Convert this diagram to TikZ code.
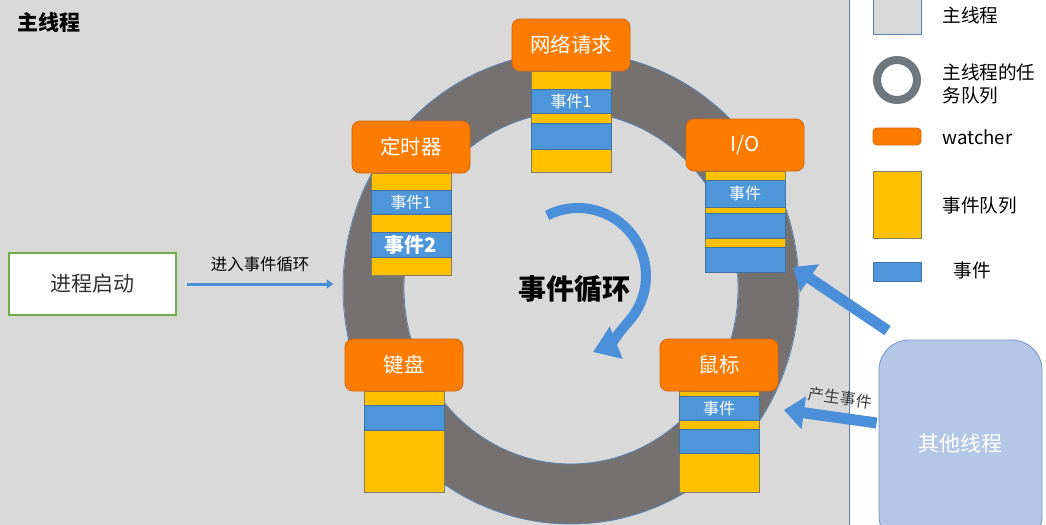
\documentclass[tikz,border=0pt]{standalone}
\usepackage{fontspec}
\setmainfont{Noto Sans CJK SC}
\usetikzlibrary{arrows.meta,positioning,calc,shapes.geometric}
\definecolor{bggray}{HTML}{D9D9D9}
\definecolor{divline}{HTML}{5B7FA8}
\definecolor{ringgray}{HTML}{767171}
\definecolor{ringedge}{HTML}{5B80AA}
\definecolor{worange}{HTML}{FD7C00}
\definecolor{wedge}{HTML}{D0680A}
\definecolor{qyellow}{HTML}{FFC000}
\definecolor{qedge}{HTML}{7E8060}
\definecolor{evblue}{HTML}{4D96DA}
\definecolor{evedge}{HTML}{41719C}
\definecolor{arrowblue}{HTML}{4A8FD8}
\definecolor{othfill}{HTML}{B4C7E7}
\definecolor{othedge}{HTML}{7393CC}
\definecolor{startedge}{HTML}{70AD47}
\definecolor{lgring}{HTML}{6E767E}

\begin{document}
\begin{tikzpicture}[
  x=0.5pt, y=-0.5pt,
  watcher/.style={draw=wedge, fill=worange, rounded corners=4pt, outer sep=0pt,
    minimum width=59pt, minimum height=26pt, text=white,
    font=\fontsize{10.2}{12}\selectfont},
  evq/.style={draw=qedge, fill=qyellow, inner sep=0pt, outer sep=0pt,
    anchor=north west, minimum width=40pt},
  evt/.style={draw=evedge, fill=evblue, inner sep=0pt, outer sep=0pt,
    anchor=north west, minimum width=40pt, text=white,
    font=\fontsize{8}{9}\selectfont},
  lgtext/.style={anchor=west, inner sep=0pt, align=left,
    font=\fontsize{9.3}{11.5}\selectfont},
  feed/.style={draw=arrowblue, line width=1.5pt, -{Triangle[length=3.5pt,width=4.5pt]}},
  push/.style={draw=arrowblue, line width=5.5pt, -{Triangle[length=10pt,width=16pt]}},
  spin/.style={draw=arrowblue, line width=5pt, -{Triangle[length=12.5pt,width=16.5pt]}}
]
\useasboundingbox (0,0) rectangle (1046,525);
\clip (0,0) rectangle (1046,525);
\fill[white] (0,0) rectangle (1046,525);
\draw[fill=bggray, draw=divline] (-5,-5) rectangle (849,530);

\node[font=\bfseries\fontsize{10.5}{12}\selectfont, anchor=west, inner sep=0pt] (title) at (17,22) {主线程};

% task queue ring
\node[ellipse, draw=ringgray, line width=30pt, minimum width=197.5pt, minimum height=206pt, inner sep=0pt] (ring) at (571,288) {};
\draw[ringedge] (ring.center) ellipse[x radius=228, y radius=236] (ring.center) ellipse[x radius=167, y radius=176];

\node[draw=startedge, line width=0.8pt, fill=white, minimum width=83.5pt, minimum height=31pt,
  text=black!80, font=\fontsize{10.5}{12}\selectfont] (start) at (92.5,284) {进程启动};
\draw[feed] ([xshift=5pt]start.east) -- ([xshift=-5pt]start.east -| ring.west)
  node[midway, above=2pt, font=\fontsize{8.2}{10}\selectfont] (feedlbl) {进入事件循环};

% event queues
\node[evq, minimum height=50.5pt] (netq) at (531,71) {};
\node[evt, minimum height=12pt] (net1) at (531,89) {事件1};
\node[evt, minimum height=13pt] (net2) at (531,123) {};

\node[evq, minimum height=51pt] (timq) at (371,173) {};
\node[evt, minimum height=12pt] (tim1) at (371,190) {事件1};
\node[evt, minimum height=12.5pt, font=\bfseries\fontsize{10}{12}\selectfont] (tim2) at (371,232) {事件2};

\node[evq, minimum height=50.5pt] (ioq) at (705,171) {};
\node[evt, minimum height=13.5pt] (io1) at (705,180) {事件};
\node[evt, minimum height=12.5pt] (io2) at (705,213) {};
\node[evt, minimum height=12.5pt] (io3) at (705,247) {};

\node[evq, minimum height=50.5pt] (kbq) at (364,391) {};
\node[evt, minimum height=12.5pt] (kb1) at (364,405) {};

\node[evq, minimum height=50.5pt] (msq) at (679,391) {};
\node[evt, minimum height=12pt] (ms1) at (679,396) {事件};
\node[evt, minimum height=12pt] (ms2) at (679,429) {};

% watchers
\node[watcher, above=0pt of netq] (net) {网络请求};
\node[watcher, above=0pt of timq] (tim) {定时器};
\node[watcher, above=0pt of ioq] (io) {I/O};
\node[watcher, above=0pt of kbq] (kb) {键盘};
\node[watcher, above=0pt of msq] (ms) {鼠标};

% event loop
\node[font=\bfseries\fontsize{14}{16}\selectfont] (loop) at (574,289) {事件循环};
\coordinate (spinc) at (578,276);
\draw[spin] ($(spinc)+(-117:68)$) arc[start angle=-117, end angle=40, radius=68]
  .. controls (620,331.5) and (608,346) .. (593,352);

% other thread
\node[draw=othedge, fill=othfill, rounded corners=15pt, minimum width=81.5pt, minimum height=103pt,
  text=white, font=\fontsize{10.5}{12}\selectfont] (other) at (960.5,443) {其他线程};
\draw[push] ([shift={(4.5pt,4.5pt)}]other.north west) -- ([shift={(4pt,2.5pt)}]ioq.south east);
\draw[push] ([shift={(-1pt,10pt)}]other.west) -- ([shift={(12.5pt,-9.5pt)}]msq.north east);
\node[rotate=-8, text=black!75, font=\fontsize{8}{10}\selectfont] (pushlbl) at (840,398) {产生事件};

% legend
\node[draw=divline, fill=bggray, minimum width=24pt, minimum height=22pt, inner sep=0pt] (lgmain) at (897,12) {};
\node[lgtext] (lgmaint) at (942,15) {主线程};
\node[circle, draw=lgring, line width=4pt, minimum size=20pt, inner sep=0pt] (lgring) at (897,80) {};
\node[lgtext] (lgringt) at (942,83.5) {主线程的任\\务队列};
\node[draw=wedge, fill=worange, rounded corners=2pt, minimum width=24pt, minimum height=8.5pt, inner sep=0pt] (lgwatch) at (897,136.5) {};
\node[lgtext] (lgwatcht) at (942,137) {watcher};
\node[draw=qedge, fill=qyellow, minimum width=24pt, minimum height=33.5pt, inner sep=0pt] (lgq) at (897,204.5) {};
\node[lgtext] (lgqt) at (942,205) {事件队列};
\node[draw=evedge, fill=evblue, minimum width=24pt, minimum height=9.5pt, inner sep=0pt] (lgev) at (897,272) {};
\node[lgtext] (lgevt) at (953,270) {事件};
\end{tikzpicture}
\end{document}
